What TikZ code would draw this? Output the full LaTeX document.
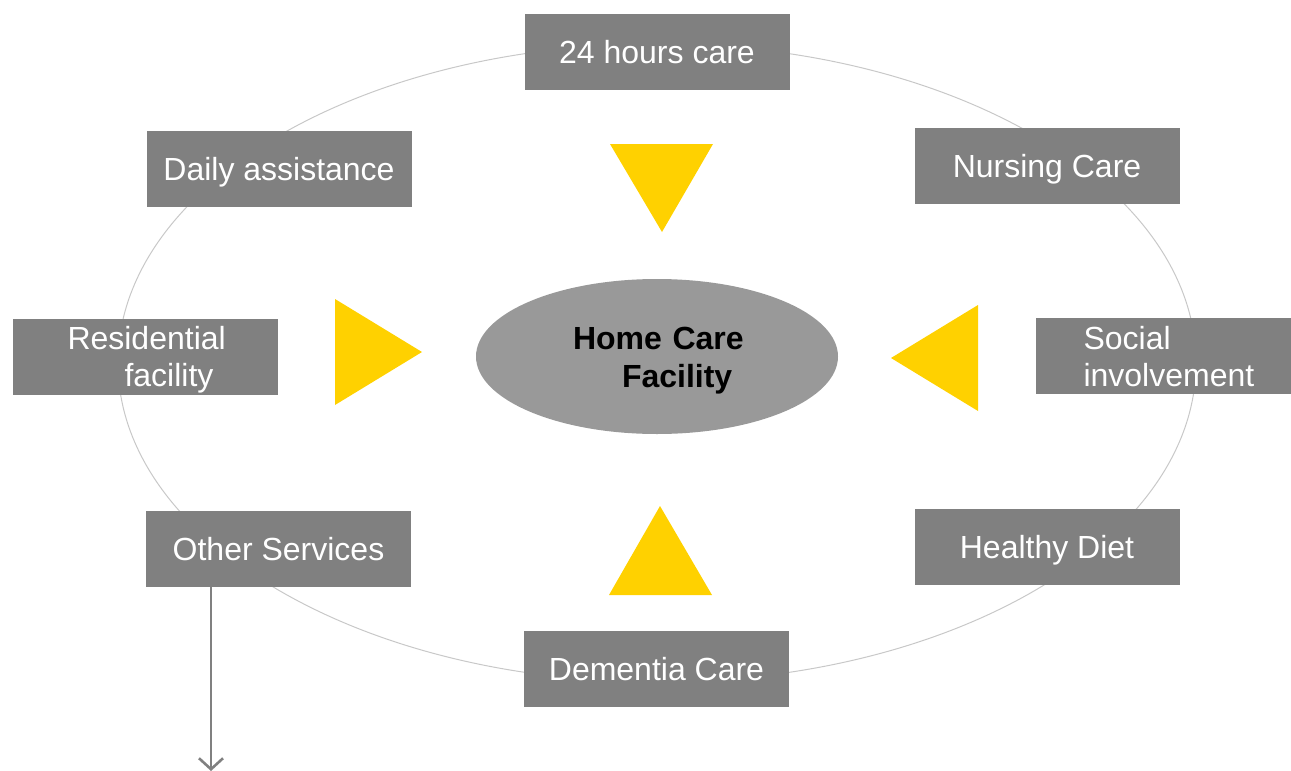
\documentclass[tikz,border=0pt]{standalone}
\usepackage{fontspec}
\setmainfont{Liberation Sans}
\usepackage{tikz}
\usetikzlibrary{arrows,arrows.meta,positioning,calc,shapes.geometric}
\definecolor{boxgray}{RGB}{128,128,128}
\definecolor{hubgray}{RGB}{153,153,153}
\definecolor{ringgray}{RGB}{200,200,200}
\definecolor{pointer}{RGB}{255,209,0}
\begin{document}
\begin{tikzpicture}[x=0.5pt,y=-0.5pt,
			svc/.style={rectangle,fill=boxgray,text=white,inner sep=0pt,minimum width=132.5pt,minimum height=38pt,text height=11.5pt,text depth=0pt,font=\fontsize{16}{18.5}\selectfont},
			twoline/.style={align=left,text depth=18.5pt},
			hub/.style={ellipse,fill=hubgray,inner sep=0pt,minimum width=181pt,minimum height=77.5pt,align=left,text height=11.5pt,text depth=19pt,font=\fontsize{16}{19}\selectfont\bfseries},
			tri/.style={fill=pointer},
			flow/.style={draw=boxgray,line width=1.3pt,-{Straight Barb[length=5.5pt,width=12pt]}}]
		\useasboundingbox (0,0) rectangle (1291,771);
		\draw [ringgray,line width=0.5pt] (657,363) ellipse [x radius=269.5pt, y radius=159.5pt];
		\path 	(657,52) 	node 	(hours) 	[svc] {24 hours care}
		        (279,169) 	node 	(daily) 	[svc] {Daily assistance}
		        (1047,166) 	node 	(nursing) 	[svc] {Nursing Care}
		        (145.5,356.5) 	node 	(resid) 	[svc, twoline, text width=78pt] {Residential\\\hspace*{28.5pt}facility}
		        (1163.5,356) 	node 	(social) 	[svc, twoline, minimum width=127.5pt, text width=80pt] {Social\\involvement}
		        (278.5,548.5) 	node 	(other) 	[svc] {Other Services}
		        (1047,547) 	node 	(diet) 		[svc] {Healthy Diet}
		        (656.5,669) 	node 	(dementia) 	[svc] {Dementia Care}
		        (657,356.5) 	node 	(home) 		[hub, text width=90pt] {\hspace*{3pt}Home Care\\\hspace*{27.5pt}Facility};
		\fill [tri] (610,144) -- (713,144) -- (662,232) -- cycle;
		\fill [tri] (609,595) -- (712,595) -- (660,506) -- cycle;
		\fill [tri] (335,299) -- (335,405) -- (422,352) -- cycle;
		\fill [tri] (978,305) -- (978,411) -- (891,358) -- cycle;
		\coordinate (down) at (211,771);
		\draw [flow] (down |- other.south) -- (down);
	\end{tikzpicture}
\end{document}
